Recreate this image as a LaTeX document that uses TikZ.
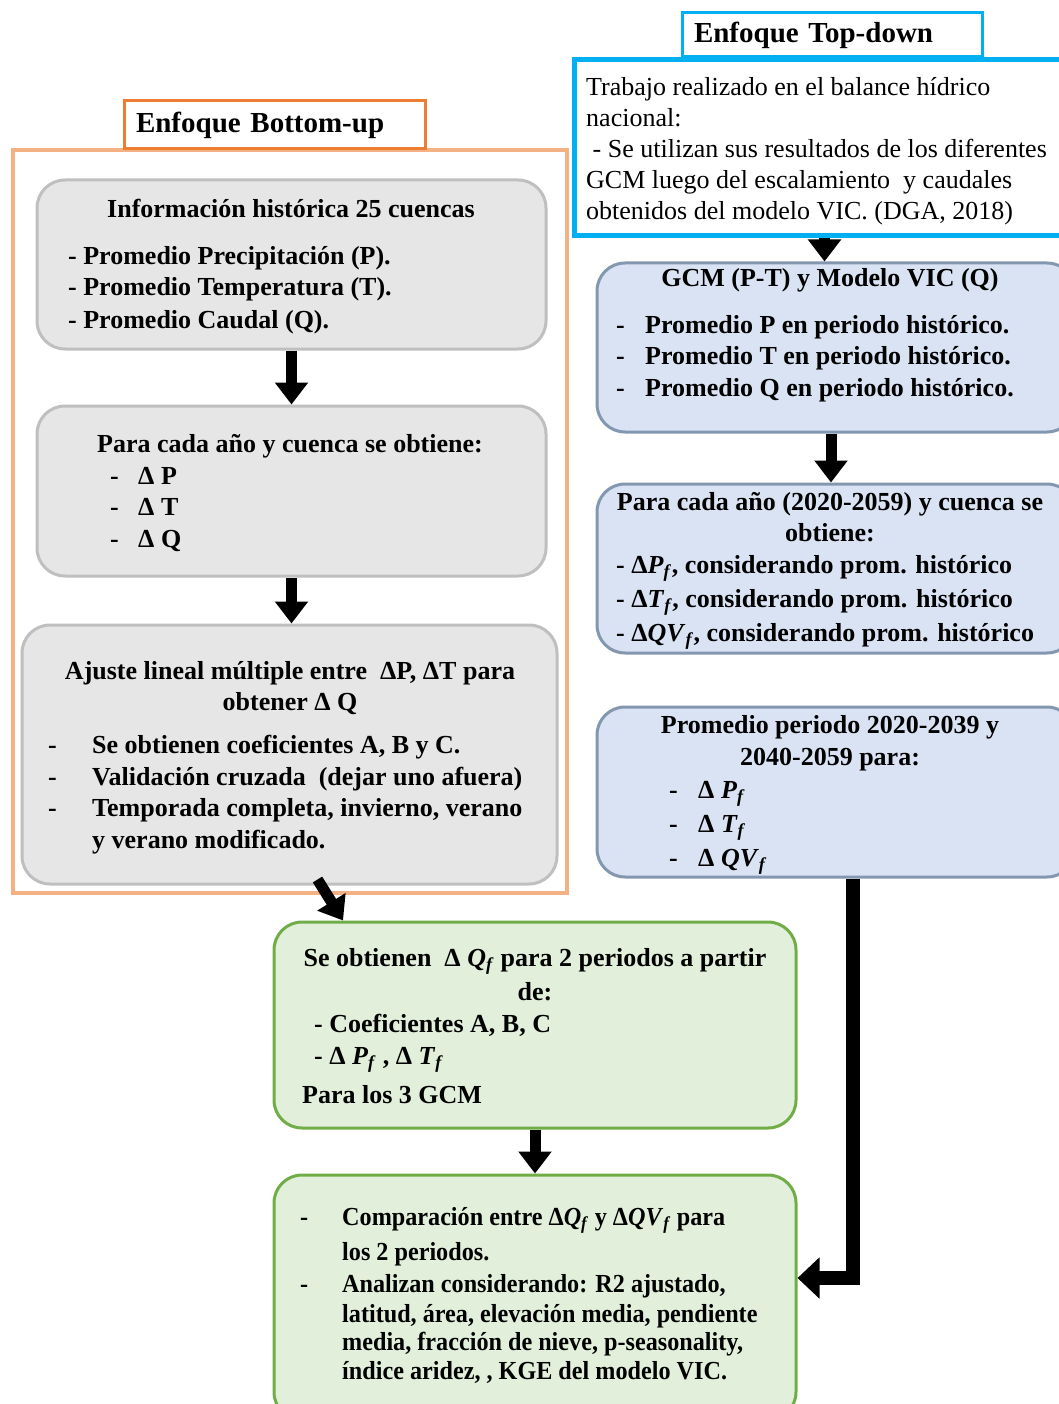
\documentclass[tikz,border=0pt]{standalone}
\usepackage{fontspec}
\setmainfont{Liberation Serif}
\newfontfamily\condfont[FakeStretch=0.93]{Liberation Serif}
\usetikzlibrary{arrows.meta,positioning,calc}
\definecolor{corange}{HTML}{ED7D31}
\definecolor{lorange}{HTML}{F4B183}
\definecolor{ccyan}{HTML}{00B0F0}
\definecolor{graybg}{HTML}{E7E6E6}
\definecolor{grayln}{HTML}{BFBFBF}
\definecolor{bluebg}{HTML}{DAE3F3}
\definecolor{blueln}{HTML}{8497B0}
\definecolor{greenbg}{HTML}{E2EFDA}
\definecolor{greenln}{HTML}{70AD47}
\newcommand{\vf}[1]{\textit{#1}\textsubscript{\textit{f}}}
\tikzset{
  hdr/.style    = {line width=3pt, fill=white, align=left, inner xsep=12pt,
                   font=\fontsize{29}{34}\selectfont\bfseries},
  gbox/.style   = {rounded corners=28pt, draw=grayln, fill=graybg, line width=3pt},
  bbox/.style   = {rounded corners=28pt, draw=blueln, fill=bluebg, line width=3pt},
  grbox/.style  = {rounded corners=28pt, draw=greenln, fill=greenbg, line width=3pt},
  txt/.style    = {anchor=base west, inner sep=0pt, font=\fontsize{26}{31}\selectfont\bfseries},
  ctxt/.style   = {anchor=base, inner sep=0pt, font=\fontsize{26}{31}\selectfont\bfseries},
  ctxt2/.style  = {anchor=base west, inner sep=0pt, font=\fontsize{26}{31}\condfont\bfseries},
  bigar/.style  = {-{Triangle[length=22pt,width=32pt]}, line width=11pt},
  longar/.style = {-{Triangle[length=22pt,width=40pt]}, line width=14pt},
}
\begin{document}
\begin{tikzpicture}[x=1pt, y=-1pt]
  \useasboundingbox (0,0) rectangle (1059,1404);
  \clip (0,0) rectangle (1059,1404);

  % bottom-up side
  \node[draw=lorange, line width=4pt, minimum width=554pt, minimum height=743pt] (bframe) at (290,521.5) {};
  \node[hdr, draw=corange, text width=277pt, minimum height=48pt] (btitle) at (274.5,125) {Enfoque Bottom-up};
  \node[gbox, minimum width=509pt, minimum height=169pt] (g1) at (291.5,264.5) {};
  \node[gbox, minimum width=509pt, minimum height=170pt] (g2) at (291.5,491) {};
  \node[gbox, minimum width=535pt, minimum height=259pt] (g3) at (289.5,754.5) {};

  \node[ctxt] (g1t) at (291,218) {Información histórica 25 cuencas};
  \foreach \i/\y/\t in {1/265/{- Promedio Precipitación (P).},
                        2/296/{- Promedio Temperatura (T).},
                        3/328/{- Promedio Caudal (Q).}} {
     \node[txt] (g1i\i) at (68,\y) {\t};
  }

  \node[ctxt] (g2t) at (290,452) {Para cada año y cuenca se obtiene:};
  \foreach \i/\y/\t in {1/484/P, 2/515/T, 3/547/Q} {
     \node[txt] (g2d\i) at (110,\y) {-};
     \node[txt] (g2i\i) at (138,\y) {Δ \t};
  }

  \node[ctxt] (g3t) at (290,679) {Ajuste lineal múltiple entre~ ΔP, ΔT para};
  \node[ctxt] (g3u) at (290,710) {obtener Δ Q};
  \foreach \i/\y/\t in {1/753/{Se obtienen coeficientes A, B y C.},
                        2/785/{Validación cruzada~ (dejar uno afuera)},
                        3/816/{Temporada completa, invierno, verano}} {
     \node[txt] (g3d\i) at (48,\y) {-};
     \node[txt] (g3i\i) at (92,\y) {\t};
  }
  \node[txt] (g3i4) at (92,848) {y verano modificado.};

  % top-down side
  \node[hdr, draw=ccyan, text width=276pt, minimum height=44pt] (ttitle) at (832,35) {Enfoque Top-down};
  \node[draw=ccyan, line width=5pt, fill=white, minimum width=501pt, minimum height=176pt] (tframe) at (824.5,148) {};
  \node[anchor=north west, align=left, inner sep=0pt,
        font=\fontsize{26}{31}\selectfont] (ttext) at (586,77)
        {Trabajo realizado en el balance hídrico\\
         nacional:\\
         ~- Se utilizan sus resultados de los diferentes\\
         GCM luego del escalamiento~ y caudales\\
         obtenidos del modelo VIC. (DGA, 2018)};
  \node[bbox, minimum width=478pt, minimum height=169pt] (b1) at (836,347.5) {};
  \node[bbox, minimum width=478pt, minimum height=169pt] (b2) at (836,568.5) {};
  \node[bbox, minimum width=478pt, minimum height=170pt] (b3) at (836,792) {};

  \node[ctxt] (b1t) at (830,287) {GCM (P-T) y Modelo VIC (Q)};
  \foreach \i/\y/\t in {1/333/P, 2/364/T, 3/396/Q} {
     \node[txt] (b1d\i) at (616,\y) {-};
     \node[txt] (b1i\i) at (645,\y) {Promedio \t\ en periodo histórico.};
  }

  \node[ctxt] (b2t) at (830,510) {Para cada año (2020-2059) y cuenca se};
  \node[ctxt] (b2u) at (830,541) {obtiene:};
  \foreach \i/\y/\t in {1/573/P, 2/607/T, 3/641/QV} {
     \node[txt] (b2i\i) at (616,\y) {- Δ\vf{\t}, considerando prom. histórico};
  }

  \node[ctxt] (b3t) at (830,733) {Promedio periodo 2020-2039 y};
  \node[ctxt] (b3u) at (830,765) {2040-2059 para:};
  \foreach \i/\y/\t in {1/798/P, 2/832/T, 3/866/QV} {
     \node[txt] (b3d\i) at (669,\y) {-};
     \node[txt] (b3i\i) at (698,\y) {Δ \vf{\t}};
  }

  % common part
  \node[grbox, minimum width=522pt, minimum height=206pt] (gr1) at (535,1025) {};
  \node[grbox, minimum width=522pt, minimum height=245pt] (gr2) at (535,1297.5) {};

  \node[ctxt] (gr1t) at (535,966) {Se obtienen~ Δ \vf{Q} para 2 periodos a partir};
  \node[ctxt] (gr1u) at (535,1000) {de:};
  \node[txt] (gr1i1) at (314,1032) {- Coeficientes A, B, C};
  \node[txt] (gr1i2) at (314,1064) {- Δ \vf{P} , Δ \vf{T}};
  \node[txt] (gr1i3) at (302,1103) {Para los 3 GCM};

  \node[ctxt2] (gr2d1) at (300,1225) {-};
  \node[ctxt2] (gr2d2) at (300,1292) {-};
  \foreach \i/\y/\t in {1/1225/{Comparación entre Δ\vf{Q} y Δ\vf{QV} para},
                        2/1260/{los 2 periodos.},
                        3/1292/{Analizan considerando: R2 ajustado,},
                        4/1322/{latitud, área, elevación media, pendiente},
                        5/1350/{media, fracción de nieve, p-seasonality,},
                        6/1379/{índice aridez, , KGE del modelo VIC.}} {
     \node[ctxt2] (gr2i\i) at (342,\y) {\t};
  }

  % arrows
  \draw[bigar] (g1.south) -- (g2.north);
  \draw[bigar] (g2.south) -- (g2.south |- g3.north);
  \draw[bigar] ([xshift=28pt,yshift=6pt]g3.south) -- ([xshift=-192pt]gr1.north);
  \draw[bigar] (tframe.south) -- (tframe.south |- b1.north);
  \draw[bigar] ([xshift=-5pt]b1.south) -- ([xshift=-5pt]b2.north);
  \draw[bigar] (gr1.south) -- (gr2.north);
  \draw[longar] ([xshift=17pt]b3.south) |- ([yshift=19.5pt]gr2.east);
\end{tikzpicture}
\end{document}
